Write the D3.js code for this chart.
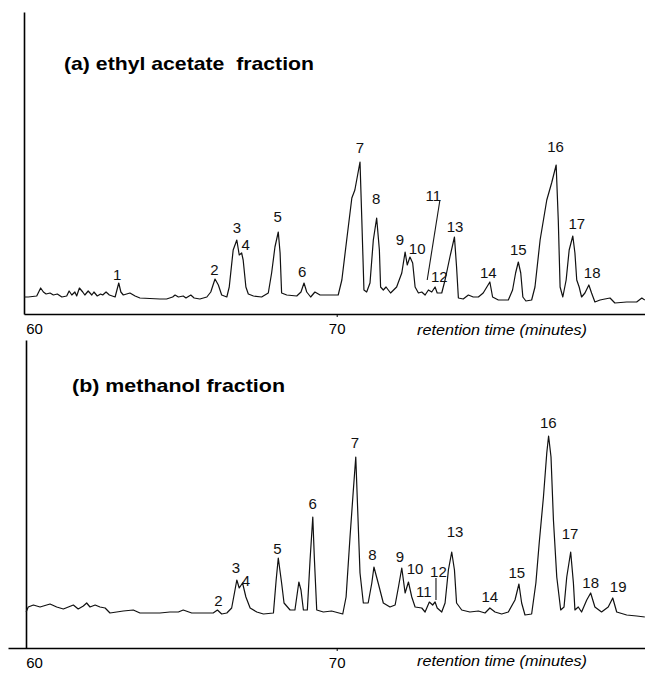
<!DOCTYPE html>
<html>
<head>
<meta charset="utf-8">
<script src="https://cdn.jsdelivr.net/npm/d3@7"></script>
<style>
  html, body { margin: 0; padding: 0; background: #fff; }
  svg { display: block; font-family: "Liberation Sans", Arial, sans-serif; }
</style>
</head>
<body>
<svg id="chart" width="645" height="675"></svg>
<script>
// retention time (min), detector signal (arbitrary units)
const traceA = [
    [59.67,17],[59.81,17],[60.09,18],[60.22,26],[60.31,22],[60.40,20],[60.53,21],[60.64,19],
    [60.77,20],[60.92,17],[61.08,18],[61.16,23],[61.25,19],[61.35,22],[61.41,18],[61.50,26],
    [61.61,22],[61.68,19],[61.79,23],[61.91,19],[61.98,22],[62.09,18],[62.20,20],[62.27,19],
    [62.38,22],[62.49,19],[62.68,17],[62.80,31],[62.87,22],[62.95,19],[63.06,20],[63.17,21],
    [63.34,18],[63.50,16],[64.16,15],[64.38,15],[64.58,17],[64.66,19],[64.77,17],[64.93,18],
    [65.02,16],[65.18,19],[65.29,16],[65.48,15],[65.71,17],[65.84,22],[65.98,35],[66.09,29],
    [66.20,19],[66.37,17],[66.45,27],[66.58,64],[66.70,74],[66.78,59],[66.86,61],[66.91,54],
    [67.00,27],[67.08,20],[67.25,18],[67.52,17],[67.74,21],[67.85,41],[67.96,67],[68.07,82],
    [68.13,61],[68.18,21],[68.35,19],[68.68,18],[68.82,22],[68.92,31],[69.01,22],[69.14,17],
    [69.28,22],[69.45,19],[69.78,19],[70.05,19],[70.17,34],[70.33,74],[70.50,116],[70.60,124],
    [70.77,152],[70.83,94],[70.90,24],[70.99,22],[71.10,31],[71.21,74],[71.32,96],[71.41,64],
    [71.45,27],[71.54,24],[71.63,27],[71.78,21],[71.98,27],[72.15,41],[72.26,62],[72.33,49],
    [72.42,57],[72.51,51],[72.59,27],[72.70,21],[72.81,22],[72.92,19],[73.03,24],[73.14,22],
    [73.25,27],[73.32,21],[73.47,21],[73.58,34],[73.74,57],[73.89,77],[73.96,47],[74.02,16],
    [74.18,15],[74.35,19],[74.51,17],[74.68,17],[74.84,21],[74.96,27],[75.06,32],[75.15,17],
    [75.34,14],[75.67,14],[75.81,24],[75.91,41],[76.00,52],[76.08,41],[76.15,17],[76.25,13],
    [76.44,14],[76.55,27],[76.72,74],[76.94,114],[77.10,131],[77.25,149],[77.32,94],[77.38,27],
    [77.47,17],[77.58,34],[77.68,64],[77.80,78],[77.87,61],[77.93,34],[78.01,27],[78.09,17],
    [78.20,21],[78.33,29],[78.42,21],[78.53,12],[78.70,14],[78.86,15],[79.03,16],[79.19,11],
    [79.58,12],[79.91,12],[80.08,16],[80.18,14]
];

const traceB = [
    [59.74,36],[59.81,41],[59.98,43],[60.20,41],[60.53,44],[60.75,41],[60.97,39],[61.30,43],
    [61.46,39],[61.63,42],[61.74,45],[61.85,41],[62.02,43],[62.18,41],[62.35,40],[62.51,35],
    [62.73,36],[62.95,37],[63.28,38],[63.50,35],[63.83,35],[64.16,35],[64.49,36],[64.77,36],
    [64.93,38],[65.21,35],[65.92,35],[66.06,38],[66.20,34],[66.37,35],[66.53,40],[66.64,58],
    [66.70,68],[66.78,60],[66.89,65],[67.00,51],[67.14,40],[67.36,36],[67.58,34],[67.91,35],
    [68.00,68],[68.07,90],[68.18,65],[68.26,45],[68.46,38],[68.62,38],[68.75,66],[68.82,58],
    [68.90,38],[69.03,38],[69.12,88],[69.21,131],[69.26,91],[69.34,38],[69.56,36],[69.83,37],
    [70.20,34],[70.31,51],[70.44,111],[70.55,158],[70.63,191],[70.69,141],[70.77,75],[70.88,45],
    [71.04,45],[71.16,65],[71.23,81],[71.37,65],[71.54,45],[71.76,41],[71.93,43],[72.04,61],
    [72.15,80],[72.26,55],[72.37,66],[72.48,51],[72.59,41],[72.81,40],[72.92,36],[73.06,46],
    [73.17,43],[73.25,46],[73.32,40],[73.47,36],[73.58,45],[73.69,78],[73.80,96],[73.89,78],
    [73.96,45],[74.13,38],[74.40,36],[74.68,37],[74.90,35],[75.06,40],[75.23,36],[75.45,34],
    [75.67,36],[75.89,48],[76.02,64],[76.11,45],[76.22,33],[76.44,34],[76.58,65],[76.69,105],
    [76.83,151],[76.94,195],[77.00,212],[77.08,191],[77.16,128],[77.27,71],[77.40,38],[77.51,41],
    [77.60,71],[77.73,96],[77.82,65],[77.87,38],[77.98,41],[78.09,36],[78.26,48],[78.39,55],
    [78.53,41],[78.75,36],[78.97,41],[79.12,50],[79.25,36],[79.58,33],[79.91,32],[80.18,31]
];

// peak number, label time, label height
const peaksA = [
    ["1",62.75,39],["2",65.96,44],["3",66.70,86],["4",66.99,69],["5",68.05,97],["6",68.86,42],
    ["7",70.77,166],["8",71.30,115],["9",72.09,74],["10",72.66,65],["11",73.19,118],["12",73.39,37],
    ["13",73.91,87],["14",75.01,41],["15",76.00,64],["16",77.23,167],["17",77.93,90],["18",78.44,41]
];

const peaksB = [
    ["2",66.09,47],["3",66.67,80],["4",67.00,67],["5",68.04,99],["6",69.21,144],["7",70.60,205],
    ["8",71.18,93],["9",72.09,91],["10",72.59,79],["11",72.88,56],["12",73.36,76],["13",73.91,116],
    ["14",75.06,51],["15",75.95,75],["16",76.99,225],["17",77.71,114],["18",78.39,65],["19",79.30,61]
];

// leader lines: t1, h1, t2, h2
const leadersA = [[73.41,114,72.99,34]];
const leadersB = [[73.28,70,73.28,48]];

const tickValues = [60, 70];
const titleA = "(a) ethyl acetate  fraction";
const titleB = "(b) methanol fraction";
const xTitle = "retention time (minutes)";

const svg = d3.select("#chart");

function drawPanel(p) {
    const g = svg.append("g");

    // 60 and 70 min fall at the same place in both panels
    const x = d3.scaleLinear().domain([60, 70]).range([34, 336.7]);
    x.domain([x.invert(p.axisStart), x.invert(645)]).range([p.axisStart, 645]);

    const y = d3.scaleLinear()
        .domain([0, p.bottom - p.top])
        .range([p.bottom, p.top]);

    const xAxis = d3.axisBottom(x)
        .tickValues(tickValues)
        .tickFormat(d3.format("d"))
        .tickSize(3)
        .tickSizeOuter(0)
        .tickPadding(6);

    const ax = g.append("g")
        .attr("transform", `translate(0,${p.bottom})`)
        .call(xAxis);
    ax.select(".domain").attr("stroke", "#000").attr("stroke-width", 1.6);
    ax.selectAll(".tick line").attr("stroke", "#000")
        .attr("opacity", d => d === 60 ? 0 : 1);
    ax.selectAll(".tick text")
        .attr("font-size", 15)
        .attr("fill", "#000");

    const ay = g.append("g")
        .attr("transform", `translate(${p.yAxisX},0)`)
        .call(d3.axisLeft(y).tickValues([]).tickSizeOuter(0));
    ay.select(".domain").attr("stroke", "#000").attr("stroke-width", 1.6);

    const line = d3.line()
        .x(d => x(d[0]))
        .y(d => y(d[1]));

    g.append("path")
        .datum(p.trace)
        .attr("fill", "none")
        .attr("stroke", "#111")
        .attr("stroke-width", 1.2)
        .attr("stroke-linejoin", "round")
        .attr("d", line);

    g.selectAll(".leader")
        .data(p.leaders)
        .join("line")
        .attr("x1", d => x(d[0]))
        .attr("y1", d => y(d[1]))
        .attr("x2", d => x(d[2]))
        .attr("y2", d => y(d[3]))
        .attr("stroke", "#151515")
        .attr("stroke-width", 1.1);

    g.selectAll(".peak")
        .data(p.peaks)
        .join("text")
        .attr("x", d => x(d[1]))
        .attr("y", d => y(d[2]))
        .attr("dy", "0.36em")
        .attr("text-anchor", "middle")
        .attr("font-size", 15)
        .attr("fill", "#111")
        .text(d => d[0]);

    g.append("text")
        .attr("x", p.titleX)
        .attr("y", p.titleY)
        .attr("font-size", 19)
        .attr("font-weight", "bold")
        .attr("textLength", p.titleW)
        .attr("lengthAdjust", "spacingAndGlyphs")
        .style("white-space", "pre")
        .text(p.title);

    g.append("text")
        .attr("x", 417)
        .attr("y", p.bottom + p.xTitleDy)
        .attr("font-size", 15)
        .attr("font-style", "italic")
        .attr("textLength", 170)
        .attr("lengthAdjust", "spacingAndGlyphs")
        .text(xTitle);
}

drawPanel({
    trace: traceA, peaks: peaksA, leaders: leadersA,
    top: 12, bottom: 314, axisStart: 24, yAxisX: 24,
    title: titleA, titleX: 64, titleY: 70, titleW: 250, xTitleDy: 21
});

drawPanel({
    trace: traceB, peaks: peaksB, leaders: leadersB,
    top: 340, bottom: 648, axisStart: 8, yAxisX: 26,
    title: titleB, titleX: 72, titleY: 392, titleW: 213, xTitleDy: 18
});
</script>
</body>
</html>
